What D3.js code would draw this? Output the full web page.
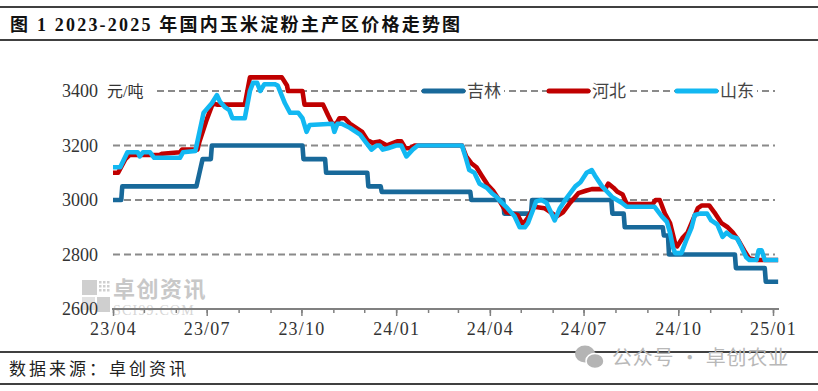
<!DOCTYPE html>
<html>
<head>
<meta charset="utf-8">
<script src="https://cdn.jsdelivr.net/npm/d3@7.9.0/dist/d3.min.js"></script>
<style>
  body { margin: 0; background: #fff; }
  svg { display: block; }
  text { font-family: "Liberation Serif", "Noto Sans CJK SC", serif; }
</style>
</head>
<body>
<svg id="chart" width="818" height="391"></svg>
<script>
// price series, [date, yuan/ton]
const jilin = [
  ["2023-04-01", 3000], ["2023-04-09", 3000], ["2023-04-10", 3050], ["2023-06-21", 3050],
  ["2023-06-24", 3100], ["2023-06-27", 3150], ["2023-07-05", 3150], ["2023-07-06", 3200],
  ["2023-10-02", 3200], ["2023-10-03", 3150], ["2023-10-24", 3150], ["2023-10-25", 3100],
  ["2023-12-04", 3100], ["2023-12-05", 3050], ["2023-12-17", 3050], ["2023-12-18", 3030],
  ["2024-03-13", 3030], ["2024-03-14", 3000], ["2024-04-14", 3000], ["2024-04-15", 2950],
  ["2024-05-11", 2950], ["2024-05-12", 3000], ["2024-07-28", 3000], ["2024-07-29", 2950],
  ["2024-08-09", 2950], ["2024-08-10", 2900], ["2024-09-16", 2900], ["2024-09-17", 2870],
  ["2024-09-21", 2870], ["2024-09-22", 2800], ["2024-11-25", 2800], ["2024-11-26", 2750],
  ["2024-12-24", 2750], ["2024-12-25", 2700], ["2025-01-06", 2700]
];

const hebei = [
  ["2023-04-01", 3100], ["2023-04-06", 3100], ["2023-04-13", 3150], ["2023-04-17", 3165],
  ["2023-05-16", 3165], ["2023-05-19", 3170], ["2023-06-05", 3175], ["2023-06-07", 3185],
  ["2023-06-22", 3185], ["2023-06-24", 3215], ["2023-07-01", 3295], ["2023-07-07", 3355],
  ["2023-07-11", 3350], ["2023-08-07", 3350], ["2023-08-12", 3450], ["2023-09-12", 3450],
  ["2023-09-17", 3420], ["2023-09-18", 3400], ["2023-10-02", 3400], ["2023-10-04", 3350],
  ["2023-10-22", 3350], ["2023-10-27", 3310], ["2023-10-31", 3280], ["2023-11-04", 3280],
  ["2023-11-07", 3300], ["2023-11-12", 3300], ["2023-11-17", 3280], ["2023-11-29", 3250],
  ["2023-12-04", 3220], ["2023-12-09", 3210], ["2023-12-16", 3215], ["2023-12-23", 3200],
  ["2024-01-02", 3215], ["2024-01-06", 3215], ["2024-01-10", 3190], ["2024-01-14", 3190],
  ["2024-01-19", 3200], ["2024-03-05", 3200], ["2024-03-09", 3160], ["2024-03-14", 3135],
  ["2024-03-19", 3120], ["2024-03-24", 3090], ["2024-03-30", 3055], ["2024-04-04", 3035],
  ["2024-04-10", 3000], ["2024-04-17", 2955], ["2024-04-28", 2945], ["2024-05-03", 2910],
  ["2024-05-08", 2935], ["2024-05-14", 2975], ["2024-05-24", 2970], ["2024-06-05", 2940],
  ["2024-06-11", 2955], ["2024-06-18", 2990], ["2024-06-26", 3025], ["2024-07-04", 3035],
  ["2024-07-09", 3040], ["2024-07-22", 3040], ["2024-07-25", 3060], ["2024-07-30", 3045],
  ["2024-08-03", 3030], ["2024-08-08", 3020], ["2024-08-12", 2985], ["2024-09-06", 2985],
  ["2024-09-09", 3000], ["2024-09-13", 3000], ["2024-09-18", 2950], ["2024-09-23", 2915],
  ["2024-09-28", 2840], ["2024-09-30", 2830], ["2024-10-05", 2860], ["2024-10-10", 2880],
  ["2024-10-15", 2925], ["2024-10-20", 2970], ["2024-10-24", 2980], ["2024-10-31", 2980],
  ["2024-11-05", 2955], ["2024-11-12", 2915], ["2024-11-18", 2900], ["2024-11-23", 2880],
  ["2024-11-28", 2855], ["2024-12-04", 2815], ["2024-12-09", 2785], ["2024-12-17", 2780],
  ["2025-01-06", 2780]
];

const shandong = [
  ["2023-04-01", 3120], ["2023-04-08", 3120], ["2023-04-15", 3175], ["2023-04-25", 3175],
  ["2023-04-27", 3160], ["2023-04-30", 3175], ["2023-05-07", 3175], ["2023-05-11", 3155],
  ["2023-06-05", 3155], ["2023-06-08", 3175], ["2023-06-20", 3180], ["2023-06-28", 3320],
  ["2023-07-06", 3355], ["2023-07-11", 3385], ["2023-07-14", 3360], ["2023-07-19", 3340],
  ["2023-07-23", 3330], ["2023-07-26", 3300], ["2023-08-07", 3300], ["2023-08-12", 3400],
  ["2023-08-15", 3430], ["2023-08-19", 3430], ["2023-08-22", 3400], ["2023-08-26", 3425],
  ["2023-09-05", 3425], ["2023-09-08", 3420], ["2023-09-15", 3355], ["2023-09-20", 3320],
  ["2023-09-28", 3320], ["2023-10-02", 3300], ["2023-10-06", 3250], ["2023-10-09", 3275],
  ["2023-10-31", 3280], ["2023-11-02", 3250], ["2023-11-05", 3280], ["2023-11-09", 3280],
  ["2023-11-17", 3265], ["2023-11-27", 3240], ["2023-12-03", 3210], ["2023-12-08", 3185],
  ["2023-12-13", 3200], ["2023-12-16", 3200], ["2023-12-19", 3185], ["2023-12-24", 3190],
  ["2024-01-01", 3200], ["2024-01-06", 3200], ["2024-01-11", 3160], ["2024-01-17", 3185],
  ["2024-01-22", 3200], ["2024-03-05", 3200], ["2024-03-09", 3150], ["2024-03-12", 3110],
  ["2024-03-17", 3100], ["2024-03-22", 3060], ["2024-03-29", 3045], ["2024-04-03", 3025],
  ["2024-04-08", 3010], ["2024-04-10", 3000], ["2024-04-18", 2970], ["2024-04-25", 2940],
  ["2024-04-30", 2900], ["2024-05-05", 2900], ["2024-05-08", 2915], ["2024-05-16", 2995],
  ["2024-05-21", 3000], ["2024-05-26", 2990], ["2024-06-03", 2925], ["2024-06-08", 2970],
  ["2024-06-15", 3010], ["2024-06-23", 3050], ["2024-06-28", 3065], ["2024-07-04", 3100],
  ["2024-07-09", 3110], ["2024-07-12", 3090], ["2024-07-19", 3050], ["2024-07-29", 3010],
  ["2024-08-07", 2990], ["2024-08-12", 2975], ["2024-09-08", 2975], ["2024-09-15", 2940],
  ["2024-09-20", 2920], ["2024-09-23", 2880], ["2024-09-26", 2825], ["2024-09-28", 2805],
  ["2024-10-04", 2805], ["2024-10-09", 2855], ["2024-10-14", 2900], ["2024-10-17", 2945],
  ["2024-10-22", 2950], ["2024-10-29", 2950], ["2024-11-02", 2925], ["2024-11-08", 2910],
  ["2024-11-13", 2865], ["2024-11-17", 2880], ["2024-11-22", 2865], ["2024-11-27", 2860],
  ["2024-12-01", 2830], ["2024-12-06", 2790], ["2024-12-09", 2780], ["2024-12-16", 2780],
  ["2024-12-18", 2815], ["2024-12-21", 2815], ["2024-12-24", 2780], ["2025-01-06", 2780]
];

const seriesNames = ["吉林", "河北", "山东"];
const seriesColors = ["#18699a", "#c00000", "#12b8f2"];
const yTicks = [2600, 2800, 3000, 3200, 3400];

const parse = d3.utcParse("%Y-%m-%d");
const svg = d3.select("#chart");

// frame lines + title
[7, 40, 352, 384].forEach(yy => {
  svg.append("line").attr("x1", 0).attr("x2", 818).attr("y1", yy).attr("y2", yy)
    .attr("stroke", "#000").attr("stroke-width", 1.5);
});
svg.append("text").attr("x", 10).attr("y", 31)
  .attr("font-size", 18).attr("font-weight", "bold").attr("letter-spacing", 2.2)
  .attr("fill", "#111")
  .text("图 1 2023-2025 年国内玉米淀粉主产区价格走势图");

svg.append("text").attr("x", 9).attr("y", 375)
  .attr("font-size", 17).attr("letter-spacing", 3).attr("fill", "#222")
  .text("数据来源：卓创资讯");

// scales
const x = d3.scaleUtc().domain([parse("2023-04-01"), parse("2025-01-01")]).range([113, 773]);
const y = d3.scaleLinear().domain([2600, 3400]).range([309, 91]);

// watermark (sci99 logo)
const wm = svg.append("g").attr("fill", "#cfcfcf");
wm.append("rect").attr("x", 82).attr("y", 280).attr("width", 15).attr("height", 15);
wm.append("rect").attr("x", 97).attr("y", 297).attr("width", 13).attr("height", 15);
wm.append("rect").attr("x", 82).attr("y", 297).attr("width", 13).attr("height", 13).attr("fill", "#e2e2e2");
for (let i = 0; i < 3; i++) for (let j = 0; j < 3; j++) {
  wm.append("rect").attr("x", 99 + i * 4).attr("y", 281 + j * 4).attr("width", 2.5).attr("height", 2.5);
}
wm.append("text").attr("x", 113).attr("y", 297).attr("font-size", 22).attr("font-weight", "bold")
  .attr("letter-spacing", 1.5).attr("fill", "#c8c8c8")
  .style("font-family", "'Noto Sans CJK SC', sans-serif").text("卓创资讯");
wm.append("text").attr("x", 113).attr("y", 315).attr("font-size", 14).attr("letter-spacing", 1.2)
  .attr("fill", "#d6d6d6").text("SCI99.COM");

// grid
svg.append("g").selectAll("line").data(yTicks.filter(d => d > 2600)).join("line")
  .attr("x1", 113).attr("x2", 775)
  .attr("y1", d => y(d)).attr("y2", d => y(d))
  .attr("stroke", "#8a8a8a").attr("stroke-width", 2).attr("stroke-dasharray", "7,4");

// y labels
svg.append("g").selectAll("text").data(yTicks).join("text")
  .attr("x", 98).attr("y", d => y(d)).attr("dy", "0.35em")
  .attr("text-anchor", "end").attr("font-size", 18).attr("fill", "#333")
  .text(d => d);

// x axis
const xAxisMinor = d3.axisBottom(x).ticks(d3.utcMonth.every(1)).tickSize(4).tickFormat("");
const xAxisMajor = d3.axisBottom(x).ticks(d3.utcMonth.every(3)).tickSize(7)
  .tickFormat(d3.utcFormat("%y/%m")).tickPadding(6);
const gMinor = svg.append("g").attr("transform", "translate(0,309)").call(xAxisMinor);
const gMajor = svg.append("g").attr("transform", "translate(0,309)").call(xAxisMajor);
[gMinor, gMajor].forEach(g => {
  g.select(".domain").remove();
  g.selectAll(".tick line").attr("stroke", "#808080").attr("stroke-width", 1.5);
});
gMajor.selectAll(".tick text").attr("font-size", 18).attr("fill", "#333")
  .attr("letter-spacing", 1.2)
  .style("font-family", "'Liberation Serif', serif");
svg.append("line").attr("x1", 112).attr("x2", 779).attr("y1", 309).attr("y2", 309)
  .attr("stroke", "#808080").attr("stroke-width", 2);

// lines
const line = d3.line().x(d => x(parse(d[0]))).y(d => y(d[1]));
[jilin, hebei, shandong].forEach((s, i) => {
  svg.append("path").datum(s).attr("d", line)
    .attr("fill", "none").attr("stroke", seriesColors[i])
    .attr("stroke-width", 4.6).attr("stroke-linejoin", "round");
});

// unit label
svg.append("rect").attr("x", 105).attr("y", 82).attr("width", 48).attr("height", 18).attr("fill", "#fff");
svg.append("text").attr("x", 107).attr("y", 91).attr("dy", "0.35em")
  .attr("font-size", 16).attr("fill", "#333").text("元/吨");

// legend
const legendX = [422, 547, 675];
const leg = svg.append("g").selectAll("g").data(seriesNames).join("g")
  .attr("transform", (d, i) => `translate(${legendX[i]},91)`);
leg.append("rect").attr("x", 44).attr("y", -9).attr("width", 38).attr("height", 18).attr("fill", "#fff");
leg.append("line").attr("x1", 2).attr("x2", 41).attr("y1", 0).attr("y2", 0)
  .attr("stroke", (d, i) => seriesColors[i]).attr("stroke-width", 5).attr("stroke-linecap", "round");
leg.append("text").attr("x", 45).attr("dy", "0.35em").attr("font-size", 17).attr("fill", "#444")
  .text(d => d);

// wechat watermark
const wx = svg.append("g").attr("fill", "#b4b4b4");
wx.append("ellipse").attr("cx", 585).attr("cy", 354).attr("rx", 10).attr("ry", 8.5);
wx.append("ellipse").attr("cx", 595).attr("cy", 361).attr("rx", 9).attr("ry", 7.5)
  .attr("stroke", "#fff").attr("stroke-width", 1.5);
wx.append("text").attr("x", 612).attr("y", 365).attr("font-size", 20).attr("letter-spacing", 0.8)
  .attr("fill", "#b8b8b8").style("font-family", "'Noto Sans CJK SC', sans-serif")
  .text("公众号 · 卓创农业");
</script>
</body>
</html>
